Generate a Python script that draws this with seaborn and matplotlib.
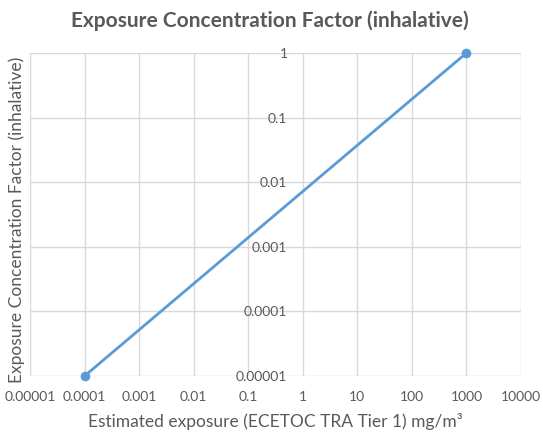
import matplotlib
matplotlib.use("Agg")
import matplotlib.pyplot as plt
import seaborn as sns
import pandas as pd
from matplotlib.ticker import FixedLocator, FixedFormatter, NullLocator

exposure = [0.0001, 1000]
factor = [0.00001, 1]
x_ticks = [1e-5, 1e-4, 1e-3, 1e-2, 1e-1, 1, 10, 100, 1000, 10000]
x_labels = ["0.00001", "0.0001", "0.001", "0.01", "0.1", "1", "10", "100", "1000", "10000"]
y_ticks = [1e-5, 1e-4, 1e-3, 1e-2, 1e-1, 1]
y_labels = ["0.00001", "0.0001", "0.001", "0.01", "0.1", "1"]

sns.set_theme(style="white")
plt.rcParams['font.family'] = ['Lato', 'DejaVu Sans']

fig = plt.figure(figsize=(5.43, 4.37), dpi=100)
ax = fig.add_axes([30/543, 1-376/437, (521-30)/543, (376-53)/437])

df = pd.DataFrame({"x": exposure, "y": factor})
sns.lineplot(data=df, x="x", y="y", ax=ax, color="#5b9bd5", linewidth=2,
             marker="o", markersize=7, markeredgewidth=0, clip_on=False, zorder=5)

ax.set_xscale("log")
ax.set_yscale("log")
ax.set_xlim(1e-5, 1e4)
ax.set_ylim(1e-5, 1)
ax.xaxis.set_major_locator(FixedLocator(x_ticks))
ax.xaxis.set_major_formatter(FixedFormatter(x_labels))
ax.xaxis.set_minor_locator(NullLocator())
ax.yaxis.set_major_locator(FixedLocator(y_ticks))
ax.yaxis.set_major_formatter(FixedFormatter(y_labels))
ax.yaxis.set_minor_locator(NullLocator())

ax.grid(True, color="#d9d9d9", linewidth=1)
for s in ax.spines.values():
    s.set_visible(False)
ax.spines['left'].set_position(('data', 1))
ax.tick_params(axis="both", length=0, labelsize=10, labelcolor="#595959")
ax.tick_params(axis="x", pad=11)
ax.tick_params(axis="y", pad=11)

ax.set_xlabel("")
ax.set_ylabel("")
fig.text(275/543, 1-421/437, "Estimated exposure (ECETOC TRA Tier 1) mg/m³",
         ha="center", va="center", fontsize=12.5, color="#595959")
fig.text(17/543, 1-220/437, "Exposure Concentration Factor (inhalative)", rotation=90,
         ha="center", va="center", fontsize=12.5, color="#595959")
fig.text(270/543, 1-21/437, "Exposure Concentration Factor (inhalative)",
         ha="center", va="center", fontsize=15, fontweight="bold", color="#595959")

fig.savefig("out.png", dpi=100)
